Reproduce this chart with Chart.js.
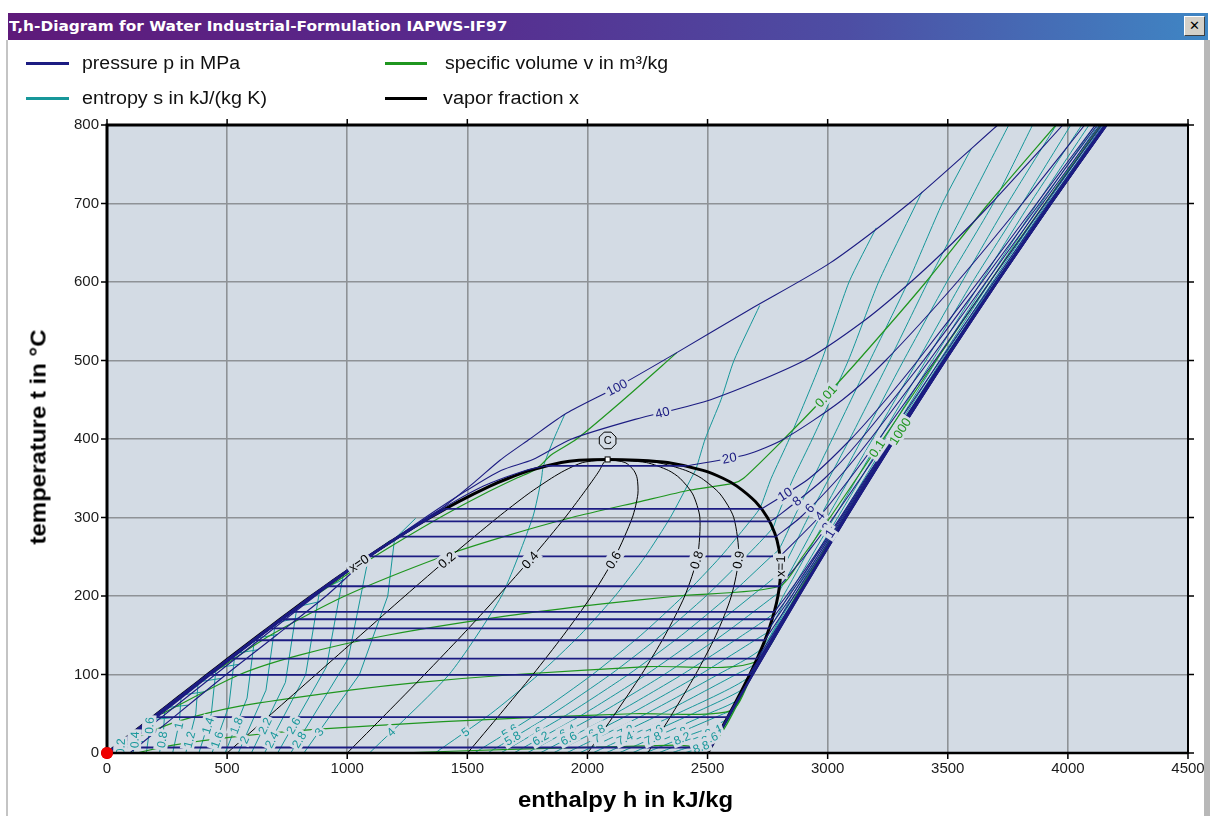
<!DOCTYPE html>
<html>
<head>
<meta charset="utf-8">
<title>T,h-Diagram for Water</title>
<script src="https://cdn.jsdelivr.net/npm/chart.js@4.4.1/dist/chart.umd.min.js"></script>
<style>
html,body{margin:0;padding:0;background:#fff;}
body{width:1214px;height:816px;position:relative;overflow:hidden;font-family:'Liberation Sans',Arial,sans-serif;}
canvas{position:absolute;left:0;top:0;}
.frameL{position:absolute;left:6px;top:40px;width:2px;height:776px;background:#c4c4c4;}
.frameR{position:absolute;left:1204px;top:40px;width:6px;height:776px;background:#b8b8b8;}
#titlebar{position:absolute;left:8px;top:13px;width:1200px;height:27px;background:linear-gradient(90deg,#5e1a7a 0%,#58298c 35%,#4d4ea4 70%,#3f86c4 100%);}
#titletext{position:absolute;left:1px;top:5px;color:#fff;font:bold 14px 'DejaVu Sans',sans-serif;white-space:nowrap;transform-origin:0 0;}
#closebtn{position:absolute;left:1176px;top:3px;width:19px;height:18px;background:#d4d0c8;border:1px solid;border-color:#fff #404040 #404040 #fff;font:bold 13px 'DejaVu Sans',sans-serif;text-align:center;line-height:18px;color:#000;}
.lg-line{position:absolute;height:3px;}
.lg-text{position:absolute;font:18px 'Liberation Sans',Arial,sans-serif;color:#111;white-space:nowrap;line-height:20px;transform-origin:0 50%;}
#xtitle,#ytitle{position:absolute;font:bold 22px 'Liberation Sans',Arial,sans-serif;color:#000;white-space:nowrap;line-height:26px;}
</style>
</head>
<body>
<canvas id="c" width="1214" height="816"></canvas>
<div class="frameL"></div><div class="frameR"></div>
<div id="titlebar"><span id="titletext">T,h-Diagram for Water Industrial-Formulation IAPWS-IF97</span><div id="closebtn">✕</div></div>
<div class="lg-line" style="left:26px;top:62px;width:43px;background:#1c1c82"></div>
<span class="lg-text" id="lg1" style="left:82px;top:53px">pressure p in MPa</span>
<div class="lg-line" style="left:385px;top:62px;width:42px;background:#1f961f"></div>
<span class="lg-text" id="lg2" style="left:445px;top:53px">specific volume v in m³/kg</span>
<div class="lg-line" style="left:26px;top:97px;width:43px;background:#17979a"></div>
<span class="lg-text" id="lg3" style="left:82px;top:88px">entropy s in kJ/(kg K)</span>
<div class="lg-line" style="left:385px;top:97px;width:42px;background:#000"></div>
<span class="lg-text" id="lg4" style="left:443px;top:88px">vapor fraction x</span>
<div id="xtitle">enthalpy h in kJ/kg</div>
<div id="ytitle">temperature t in °C</div>
<script>
// ---------- data: [enthalpy h (kJ/kg), temperature t (°C)] ----------
const satLiquid = [[0,0],[84,20],[167.5,40],[251,60],[335,80],[419,100],[504,120],[589,140],[676,160],[763,180],[852,200],[944,220],[1038,240],[1135,260],[1237,280],[1345,300],[1462,320],[1594,340],[1671,350],[1762,360],[1891,370],[1965,372.8],[2084,373.95]];
const satVapor = [[2084,373.95],[2210,372.9],[2334,370],[2481,360],[2564,350],[2622,340],[2700,320],[2749,300],[2780,280],[2797,260],[2803,240],[2802,220],[2793,200],[2778,180],[2758,160],[2734,140],[2706,120],[2676,100],[2643,80],[2609,60],[2574,40],[2537,20],[2501,0]];

const q02 = [[500,0],[685,50],[870,100],[1055,150],[1240,200],[1429,250],[1626,300],[1753,330],[1850,350],[1906,360],[1980,370],[2084,373.95]];
const q04 = [[1000,0],[1162,50],[1322,100],[1478,150],[1628,200],[1772,250],[1907,300],[1981,330],[2028,350],[2050,360],[2068,370],[2084,373.95]];
const q06 = [[1501,0],[1638,50],[1773,100],[1900,150],[2017,200],[2115,250],[2187,300],[2210,330],[2207,350],[2193,360],[2157,370],[2084,373.95]];
const q08 = [[2001,0],[2115,50],[2225,100],[2323,150],[2405,200],[2458,250],[2468,300],[2438,330],[2385,350],[2337,360],[2245,370],[2084,373.95]];
const q09 = [[2251,0],[2353,50],[2450,100],[2535,150],[2599,200],[2630,250],[2609,300],[2552,330],[2475,350],[2409,360],[2290,370],[2084,373.95]];

// isobars (MPa)
const p0001two = [[29,7],[2514,7]];
const p0001sup = [[2514,7],[2594,50],[2688,100],[2880,200],[3077,300],[3280,400],[3489,500],[3706,600],[3930,700],[4161,800]];
const p001two = [[192,45.8],[2584,45.8]];
const p001sup = [[2584,45.8],[2592,50],[2688,100],[2880,200],[3077,300],[3280,400],[3490,500],[3706,600],[3930,700],[4160,800]];
const p01two = [[417.5,99.6],[2675,99.6]];
const p01sup = [[2675,99.6],[2777,150],[2876,200],[3074,300],[3279,400],[3489,500],[3706,600],[3929,700],[4160,800]];
const p02two = [[504.7,120.2],[2706,120.2]];
const p02sup = [[2706,120.2],[2769,150],[2871,200],[3072,300],[3277,400],[3488,500],[3705,600],[3929,700],[4160,800]];
const p04two = [[604.7,143.6],[2738,143.6]];
const p04sup = [[2738,143.6],[2860,200],[3067,300],[3273,400],[3485,500],[3703,600],[3927,700],[4158,800]];
const p06two = [[670.5,158.8],[2756,158.8]];
const p06sup = [[2756,158.8],[2850,200],[3062,300],[3270,400],[3483,500],[3701,600],[3925,700],[4157,800]];
const p08two = [[721,170.4],[2768,170.4]];
const p08sup = [[2768,170.4],[2839,200],[3057,300],[3267,400],[3481,500],[3700,600],[3924,700],[4156,800]];
const p1liq = [[1,0],[420,100],[762.7,179.9]];
const p1two = [[762.7,179.9],[2778,179.9]];
const p1sup = [[2778,179.9],[2828,200],[2943,250],[3052,300],[3264,400],[3479,500],[3699,600],[3924,700],[4156,800]];
const p2liq = [[2,0],[421,100],[853,200],[908.6,212.4]];
const p2two = [[908.6,212.4],[2799,212.4]];
const p2sup = [[2799,212.4],[2903,250],[3024,300],[3248,400],[3468,500],[3691,600],[3918,700],[4151,800]];
const p4liq = [[4,0],[422,100],[854,200],[1087.4,250.4]];
const p4two = [[1087.4,250.4],[2801,250.4]];
const p4sup = [[2801,250.4],[2962,300],[3093,350],[3214,400],[3446,500],[3675,600],[3906,700],[4142,800]];
const p6liq = [[6,0],[424,100],[855,200],[1086,250],[1213.9,275.6]];
const p6two = [[1213.9,275.6],[2784,275.6]];
const p6sup = [[2784,275.6],[2886,300],[3044,350],[3178,400],[3423,500],[3659,600],[3894,700],[4133,800]];
const p8liq = [[8,0],[426,100],[856,200],[1086,250],[1317,295]];
const p8two = [[1317,295],[2758,295]];
const p8sup = [[2758,295],[2786,300],[2988,350],[3139,400],[3399,500],[3642,600],[3882,700],[4122,800]];
const p10liq = [[10,0],[427,100],[857,200],[1086,250],[1344,300],[1408,311]];
const p10two = [[1408,311],[2725,311]];
const p10sup = [[2725,311],[2924,350],[3097,400],[3242,450],[3375,500],[3626,600],[3870,700],[4114,800]];
const p20liq = [[20,0],[186,40],[434,100],[859,200],[1334,300],[1567,340],[1742,360],[1827,365.7]];
const p20two = [[1827,365.7],[2412,365.7]];
const p20sup = [[2412,365.7],[2660,380],[2818,400],[3062,450],[3241,500],[3539,600],[3810,700],[4070,800]];
const p40 = [[39,0],[204,40],[451,100],[867,200],[1090,250],[1325,300],[1500,335],[1640,360],[1773,374],[1934,400],[2198,425],[2513,450],[2903,500],[3149,550],[3346,600],[3521,650],[3681,700],[3979,800]];
const p100 = [[95,0],[255,40],[496,100],[705,150],[912,200],[1095,250],[1335,300],[1400,313],[1530,345],[1636,373],[1760,400],[1914,433],[2122,466],[2372,510],[2676,565],[3009,624],[3342,701],[3708,800]];

// isochores (m³/kg)
const v0002 = [[865,200],[1112,250],[1386,300],[1569,330],[1704,350],[1777,360],[1810,368],[1850,380],[1955,400],[2150,450],[2372,510]];
const v001 = [[431,100],[680,150],[990,200],[1393,250],[1645,275],[1935,300],[2215,320],[2429,335],[2605,343.5],[2650,350],[2818,400],[2977,450],[3127,500],[3409,600],[3670,700],[3950,800]];
const v01 = [[229,50],[553,100],[805,125],[1166,150],[1672,175],[2062,190],[2374,200],[2799,212.4],[2895,250],[3010,300],[3231,400],[3451,500],[3674,600],[3904,700],[4137,800]];
const v1 = [[126,20],[291,40],[558,60],[1011,80],[1300,90],[1700,100],[2250,110],[2700,116.3],[2868,200],[3273,400],[3702,600],[4158,800]];
const v10 = [[121,0],[275,10],[509,20],[864,30],[1399,40],[1759,45],[2189,50],[2598,54],[2686,100],[2879,200],[3279,400],[3705,600],[4159,800]];
const v100 = [[1214,0],[1713,5],[2370,10],[2521,11],[2688,100],[2880,200],[3280,400],[3706,600],[4160,800]];
const v1000 = [[2501,0],[2594,50],[2688,100],[2880,200],[3077,300],[3280,400],[3489,500],[3706,600],[3930,700],[4161,800]];

// isentropes (kJ/(kg K))
const sL02 = [[54.6,0],[56,13.4],[150,14.5]];
const sL04 = [[109.3,0],[113.6,14],[115,27.4],[211,29]];
const sL06 = [[163.9,0],[172.7,20],[176.3,42.1],[272,45]];
const sL08 = [[218.5,0],[235.7,30],[241.2,57.6],[337,61]];
const sL10 = [[273.2,0],[301.5,40],[308.8,73.75],[405,78]];
const sL12 = [[327.8,0],[369.6,50],[379.5,90.6],[475,95]];
const sL14 = [[382.4,0],[434.2,50],[454.3,108.3],[550,113]];
const sL16 = [[437,0],[507.4,60],[532.8,126.8],[628,131.5]];
const sL18 = [[491.7,0],[583.1,70],[614.6,145.9],[710,151]];
const sL20 = [[546.3,0],[661.7,80],[700.8,165.8],[797,172]];
const sL22 = [[601,0],[742.7,90],[791.1,186.3],[888,193]];
const sL24 = [[655.6,0],[827.1,100],[885.4,207.3],[985,221]];
const sL26 = [[710.2,0],[913.9,110],[985,228.9],[1075,246]];
const sL28 = [[764.8,0],[1003.9,120],[1089.7,250.8],[1180,271]];
const s30 = [[819.5,0],[1051,100],[1168.8,200],[1197,272.6],[1285,299]];
const s40 = [[1092.6,0],[1424,100],[1642,200],[1772,300],[1809,350],[1815,364],[1860,400],[1905,431]];
const s50 = [[1365.8,0],[1597.5,50],[1797,100],[1968.5,150],[2115,200],[2240,250],[2345,300],[2432,350],[2452,362],[2490,400],[2556,450],[2610,500],[2717,570]];
const s56 = [[1529.6,0],[1791.4,50],[2021.1,100],[2222.4,150],[2399,200],[2554.2,250],[2689.4,300],[2719,312.5],[2765,350],[2840,400],[2975,500],[3089,600],[3202,669]];
const s58 = [[1584.3,0],[1856.1,50],[2095.8,100],[2307.1,150],[2493.7,200],[2659,250],[2771,286.5],[2788,300],[2857,350],[2936,400],[3086,500],[3212,600],[3393,715]];
const s60 = [[1638.9,0],[1920.7,50],[2170.4,100],[2391.7,150],[2588.3,200],[2763.5,250],[2797,259.3],[2860,300],[3019,400],[3176,500],[3335,600],[3477,700],[3598,770]];
const s62 = [[1693.5,0],[1985.4,50],[2245,100],[2476.3,150],[2682.9,200],[2803,231.6],[2919,300],[3092,400],[3257,500],[3417,600],[3586,700],[3754,800]];
const s64 = [[1748.2,0],[2050,50],[2319.7,100],[2560.9,150],[2777.6,200],[2795,204.3],[2967,300],[3143,400],[3316,500],[3496,600],[3689,700],[3853,800]];
const s66 = [[1802.8,0],[2114.6,50],[2394.3,100],[2645.6,150],[2776,178.2],[2815,200],[2998,300],[3187,400],[3375,500],[3559,600],[3749,700],[3952,800]];
const s68 = [[1857.4,0],[2179.2,50],[2468.9,100],[2730.2,150],[2751,154.3],[2836,200],[3027,300],[3217,400],[3409,500],[3603,600],[3810,700],[4012,800]];
const s70 = [[1912.1,0],[2243.9,50],[2543.6,100],[2724,132.9],[2851,200],[3042,300],[3236,400],[3436,500],[3638,600],[3842,700],[4058,800]];
const s72 = [[1966.7,0],[2308.5,50],[2618.2,100],[2697,113.7],[2766,150],[2860,200],[3055,300],[3252,400],[3453,500],[3661,600],[3872,700],[4088,800]];
const s74 = [[2021.3,0],[2373.1,50],[2670,96.3],[2772,150],[2867,200],[3062,300],[3261,400],[3466,500],[3676,600],[3888,700],[4114,800]];
const s76 = [[2076,0],[2437.7,50],[2644,80.8],[2680,100],[2872,200],[3067,300],[3268,400],[3474,500],[3686,600],[3905,700],[4126,800]];
const s78 = [[2130.6,0],[2502.4,50],[2621,67],[2685,100],[2875,200],[3070,300],[3272,400],[3480,500],[3693,600],[3912,700],[4139,800]];
const s80 = [[2185.2,0],[2567,50],[2599,54.5],[2686,100],[2877,200],[3073,300],[3276,400],[3482,500],[3698,600],[3919,700],[4146,800]];
const s82 = [[2239.8,0],[2400.7,20],[2579,43.1],[2687,100],[2878,200],[3075,300],[3277,400],[3485,500],[3701,600],[3922,700],[4152,800]];
const s84 = [[2294.5,0],[2459.3,20],[2560,32.7],[2688,100],[2879,200],[3076,300],[3278,400],[3487,500],[3703,600],[3925,700],[4155,800]];
const s86 = [[2349.1,0],[2543,23.1],[2688,100],[2880,200],[3076,300],[3279,400],[3488,500],[3704,600],[3927,700],[4157,800]];
const s88 = [[2403.7,0],[2527,14.3],[2688,100],[2880,200],[3077,300],[3279,400],[3488,500],[3705,600],[3928,700],[4158,800]];

const criticalPoint = [[2084,373.95]];
const originPoint = [[0,0]];

// line labels: [line, temperature where label sits, text, occurrence]
const pressureLabels = [['p100',466,'100'],['p40',434,'40'],['p20sup',376,'20'],['p10sup',330,'10'],['p8sup',321,'8'],['p6sup',312,'6'],['p4sup',302,'4'],['p2sup',288,'2'],['p1sup',280,'1']];
const volumeLabels = [['v001',455,'0.01'],['v01',388,'0.1'],['v1000',410,'1000']];
const qualityLabels = [['dome',242,'x=0',0],['q02',246,'0.2'],['q04',246,'0.4'],['q06',246,'0.6'],['q08',246,'0.8'],['q09',246,'0.9'],['dome',238,'x=1',1]];
const entropyLabels = [['sL02',8,'0.2'],['sL04',17,'0.4'],['sL06',35,'0.6'],['sL08',17,'0.8'],['sL10',35,'1'],['sL12',17,'1.2'],['sL14',35,'1.4'],['sL16',17,'1.6'],['sL18',35,'1.8'],['sL20',17,'2'],['sL22',35,'2.2'],['sL24',17,'2.4'],['sL26',35,'2.6'],['sL28',17,'2.8'],
 ['s30',27,'3'],['s40',27,'4'],['s50',27,'5'],
 ['s56',28,'5.6'],['s58',19,'5.8'],['s60',28,'6'],['s62',19,'6.2'],['s64',28,'6.4'],['s66',19,'6.6'],['s68',28,'6.8'],['s70',19,'7'],['s72',28,'7.2'],['s74',19,'7.4'],['s76',28,'7.6'],['s78',19,'7.8'],['s80',28,'8'],['s82',19,'8.2'],['s84',28,'8.4'],['s86',19,'8.6'],['s88',8,'8.8']];

// ---------- styling ----------
const PLOT_BG = '#d3dbe4';
const C_P = '#1c1c82', C_S = '#17979a', C_V = '#1f961f', C_X = '#000000';

function mk(name, pts, color, width, tension, order){
  return {name, data: pts.map(p => ({x:p[0], y:p[1]})), showLine:true, borderColor:color, backgroundColor:color,
          borderWidth:width, pointRadius:0, pointHoverRadius:0, tension, order, fill:false};
}

const datasets = [];
const o = mk('origin', originPoint, '#ee0000', 0, 0, 0);
o.showLine = false; o.pointRadius = 6; o.clip = false; o.borderWidth = 0;
datasets.push(o);

// isobars
const isobarTwo = {p0001two, p001two, p01two, p02two, p04two, p06two, p08two, p1two, p2two, p4two, p6two, p8two, p10two, p20two};
const isobarBand = {p0001sup, p001sup, p01sup};
const isobarLiq = {p1liq, p2liq, p4liq, p6liq, p8liq, p10liq};
const isobarOther = {p02sup, p04sup, p06sup, p08sup, p1sup, p2sup, p4sup, p6sup, p8sup, p10sup, p20liq, p20sup, p40, p100};
for (const [n, a] of Object.entries(isobarTwo)) datasets.push(mk(n, a, C_P, 1.8, 0, 1));
for (const [n, a] of Object.entries(isobarBand)) datasets.push(mk(n, a, C_P, 2.2, 0.25, 1));
for (const [n, a] of Object.entries(isobarLiq)) datasets.push(mk(n, a, C_P, 2.2, 0.2, 1));
for (const [n, a] of Object.entries(isobarOther)) datasets.push(mk(n, a, C_P, 1.1, 0.25, 1));
// saturation dome
datasets.push(mk('dome', satLiquid.concat(satVapor.slice(1)), C_X, 3, 0.2, 2));
// quality
for (const [n, a] of Object.entries({q02, q04, q06, q08, q09})) datasets.push(mk(n, a, C_X, 1, 0.25, 3));
// isochores
for (const [n, a] of Object.entries({v0002, v001, v01, v1, v10, v100, v1000})) datasets.push(mk(n, a, C_V, 1.2, 0.25, 4));
// isentropes
const liqS = {sL02, sL04, sL06, sL08, sL10, sL12, sL14, sL16, sL18, sL20, sL22, sL24, sL26, sL28, s30};
const vapS = {s40, s50, s56, s58, s60, s62, s64, s66, s68, s70, s72, s74, s76, s78, s80, s82, s84, s86, s88};
for (const [n, a] of Object.entries(liqS)) datasets.push(mk(n, a, C_S, 1, 0, 5));
for (const [n, a] of Object.entries(vapS)) datasets.push(mk(n, a, C_S, 1, 0.2, 5));

// ---------- plugins ----------
function findOnLine(chart, name, T, occ){
  const ds = chart.data.datasets.find(d => d.name === name);
  if (!ds) return null;
  const xs = chart.scales.x, ys = chart.scales.y, pts = ds.data;
  let count = 0;
  for (let i = 0; i < pts.length - 1; i++){
    const a = pts[i], b = pts[i+1];
    if (a.y !== b.y && (a.y - T) * (b.y - T) <= 0){
      if (count === (occ || 0)){
        const f = (T - a.y) / (b.y - a.y);
        const h = a.x + f * (b.x - a.x);
        const ax = xs.getPixelForValue(a.x), ay = ys.getPixelForValue(a.y);
        const bx = xs.getPixelForValue(b.x), by = ys.getPixelForValue(b.y);
        return {x: xs.getPixelForValue(h), y: ys.getPixelForValue(T), ang: Math.atan2(by - ay, bx - ax)};
      }
      count++;
    }
  }
  return null;
}
function drawLabel(ctx, p, text, color, size){
  if (!p) return;
  let ang = p.ang;
  if (ang > Math.PI/2 + 0.01) ang -= Math.PI;
  if (ang < -Math.PI/2 - 0.01) ang += Math.PI;
  ctx.save();
  ctx.translate(p.x, p.y);
  ctx.rotate(ang);
  ctx.font = size + "px 'Liberation Sans', Arial, sans-serif";
  const w = ctx.measureText(text).width;
  ctx.fillStyle = PLOT_BG;
  ctx.fillRect(-w/2 - 2, -size/2 - 1, w + 4, size + 2);
  ctx.fillStyle = color;
  ctx.textAlign = 'center';
  ctx.textBaseline = 'middle';
  ctx.fillText(text, 0, 1);
  ctx.restore();
}

const bgPlugin = {
  id: 'plotbg',
  beforeDraw(chart){
    const {ctx, chartArea: a} = chart;
    ctx.save(); ctx.fillStyle = PLOT_BG; ctx.fillRect(a.left, a.top, a.right - a.left, a.bottom - a.top); ctx.restore();
  }
};

const decoPlugin = {
  id: 'deco',
  afterDatasetsDraw(chart){
    const ctx = chart.ctx, a = chart.chartArea, xs = chart.scales.x, ys = chart.scales.y;
    ctx.save();
    ctx.beginPath(); ctx.rect(a.left, a.top, a.right - a.left, a.bottom - a.top); ctx.clip();
    for (const l of entropyLabels) drawLabel(ctx, findOnLine(chart, l[0], l[1], l[3]), l[2], C_S, 12);
    for (const l of volumeLabels) drawLabel(ctx, findOnLine(chart, l[0], l[1], l[3]), l[2], C_V, 13);
    for (const l of pressureLabels) drawLabel(ctx, findOnLine(chart, l[0], l[1], l[3]), l[2], C_P, 13);
    for (const l of qualityLabels) drawLabel(ctx, findOnLine(chart, l[0], l[1], l[3]), l[2], C_X, 13);
    // critical point marker
    const cx = xs.getPixelForValue(criticalPoint[0][0]), cy = ys.getPixelForValue(criticalPoint[0][1]);
    ctx.fillStyle = '#fff'; ctx.strokeStyle = '#000'; ctx.lineWidth = 1;
    ctx.fillRect(cx - 2.5, cy - 2.5, 5, 5); ctx.strokeRect(cx - 2.5, cy - 2.5, 5, 5);
    const mx = cx, my = cy - 19, r = 9;
    ctx.beginPath();
    for (let k = 0; k < 8; k++){ const t = Math.PI/8 + k*Math.PI/4; const px = mx + r*Math.cos(t), py = my + r*Math.sin(t); k ? ctx.lineTo(px, py) : ctx.moveTo(px, py); }
    ctx.closePath(); ctx.fillStyle = PLOT_BG; ctx.fill(); ctx.stroke();
    ctx.fillStyle = '#000'; ctx.font = "11px 'Liberation Sans', Arial, sans-serif"; ctx.textAlign = 'center'; ctx.textBaseline = 'middle';
    ctx.fillText('C', mx, my + 1);
    ctx.restore();
    // frame + outside ticks
    ctx.save();
    ctx.strokeStyle = '#000';
    ctx.lineWidth = 1.5;
    ctx.beginPath();
    for (const t of xs.ticks){ const x = xs.getPixelForValue(t.value); ctx.moveTo(x, a.bottom); ctx.lineTo(x, a.bottom + 6); ctx.moveTo(x, a.top); ctx.lineTo(x, a.top - 6); }
    for (const t of ys.ticks){ const y = ys.getPixelForValue(t.value); ctx.moveTo(a.left, y); ctx.lineTo(a.left - 6, y); ctx.moveTo(a.right, y); ctx.lineTo(a.right + 6, y); }
    ctx.stroke();
    ctx.lineWidth = 3;
    ctx.beginPath(); ctx.moveTo(a.left, a.bottom + 1); ctx.lineTo(a.left, a.top); ctx.lineTo(a.right + 1, a.top); ctx.stroke();
    ctx.lineWidth = 2.5;
    ctx.beginPath(); ctx.moveTo(a.left, a.bottom); ctx.lineTo(a.right, a.bottom); ctx.stroke();
    ctx.lineWidth = 2;
    ctx.beginPath(); ctx.moveTo(a.right, a.top); ctx.lineTo(a.right, a.bottom + 1); ctx.stroke();
    ctx.restore();
    // origin marker on top of the frame
    const idx = chart.data.datasets.findIndex(d => d.name === 'origin');
    const meta = chart.getDatasetMeta(idx);
    if (meta && meta.data[0]) meta.data[0].draw(ctx);
  }
};

const tickFont = {family: "'Liberation Sans', Arial, sans-serif", size: 15};
new Chart(document.getElementById('c'), {
  type: 'scatter',
  data: {datasets},
  plugins: [bgPlugin, decoPlugin],
  options: {
    responsive: false, animation: false, events: [],
    layout: {padding: {left: 0, top: 125, right: 26, bottom: 0}},
    plugins: {legend: {display: false}, tooltip: {enabled: false}},
    scales: {
      x: {type: 'linear', min: 0, max: 4500, position: 'bottom',
          ticks: {stepSize: 500, autoSkip: false, maxRotation: 0, padding: 7, color: '#1a1a1a', font: tickFont, callback: v => String(v)},
          grid: {color: '#8e9296', lineWidth: 1.6, drawTicks: false}, border: {display: false},
          afterFit(s){ s.height = 63; }},
      y: {type: 'linear', min: 0, max: 800, position: 'left',
          ticks: {stepSize: 100, autoSkip: false, padding: 8, color: '#1a1a1a', font: tickFont, callback: v => String(v)},
          grid: {color: '#8e9296', lineWidth: 1.6, drawTicks: false}, border: {display: false},
          afterFit(s){ s.width = 107; }}
    }
  }
});

// ---------- text fitting for window chrome ----------
function fitX(id, width){ const el = document.getElementById(id); const w = el.scrollWidth; el.style.transform = 'scaleX(' + (width / w) + ')'; }
fitX('titletext', 498);
fitX('lg1', 158); fitX('lg2', 223); fitX('lg3', 185); fitX('lg4', 136);
(function(){
  const xt = document.getElementById('xtitle');
  const w = xt.scrollWidth, h = xt.offsetHeight;
  xt.style.left = (625 - 215/2) + 'px'; xt.style.top = (800 - h/2) + 'px';
  xt.style.transformOrigin = '0 50%'; xt.style.transform = 'scaleX(' + (215 / w) + ')';
  const yt = document.getElementById('ytitle');
  const W = yt.scrollWidth, H = yt.offsetHeight;
  yt.style.left = (38 - W/2) + 'px'; yt.style.top = (437 - H/2) + 'px';
  yt.style.transformOrigin = '50% 50%'; yt.style.transform = 'rotate(-90deg) scaleX(' + (215 / W) + ')';
})();
</script>
</body>
</html>
